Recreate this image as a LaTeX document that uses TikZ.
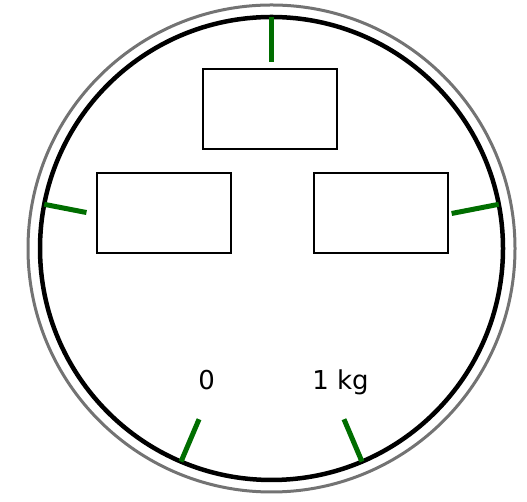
\documentclass[tikz,border=0pt]{standalone}
\usepackage{fontspec}
\setmainfont{DejaVu Sans}
\definecolor{tickgreen}{RGB}{0,110,0}
\begin{document}
\begin{tikzpicture}[x=1pt, y=1pt, line join=miter,
	box/.style={draw, line width=2.6pt, fill=white, minimum width=134pt, minimum height=80pt, outer sep=0pt, anchor=south west},
	scalelabel/.style={font=\fontsize{26}{30}\selectfont, anchor=base, inner sep=0pt},
	tick/.style={draw=tickgreen, line width=5pt}]
	\useasboundingbox (0, 0) rectangle (527, 502);
	
	% Mặt cân
	\coordinate (c) at (271.5, 253.5);
	\draw[black!55, line width=3pt] (c) circle (243.5);
	\draw[black, line width=4.5pt] (c) circle (231.5);
	
	% Vạch chia
	\foreach \a/\l in {90/45, 169/43, 11/48, 247/46, 293/46}
		\draw[tick, shift={(c)}] (\a:231.5-\l) -- (\a:231.5);
	
	% Ô trống
	\node[box] (top) at (203, 353) {};
	\node[box] (left) at (97, 249) {};
	\node[box] (right) at (314, 249) {};
	
	% Nhãn
	\node[scalelabel] (zero) at (206.7, 112) {0};
	\node[scalelabel] (onekg) at (340.5, 112) {1 kg};
\end{tikzpicture}
\end{document}
